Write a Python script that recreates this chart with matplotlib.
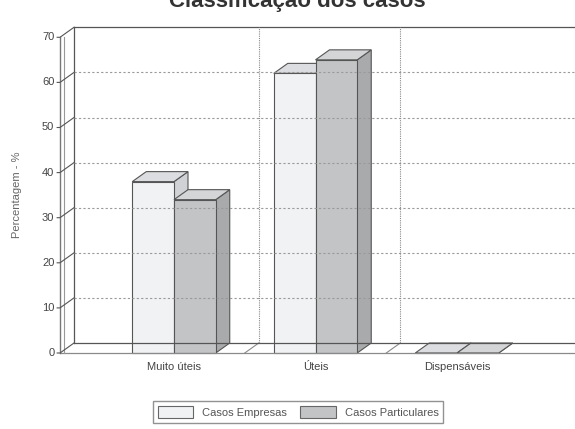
import matplotlib
matplotlib.use("Agg")
import matplotlib.pyplot as plt
from matplotlib.patches import Polygon, Patch

plt.rcParams['font.family'] = ['Liberation Sans', 'DejaVu Sans']

# data
categorias = ['Muito úteis', 'Úteis', 'Dispensáveis']
series = ['Casos Empresas', 'Casos Particulares']
empresas = [38, 62, 0]
particulares = [34, 65, 0]
yticks = [0, 10, 20, 30, 40, 50, 60, 70]

# colours per series: front, top, side
cores = {
    'Casos Empresas': ('#f1f2f4', '#dcdde0', '#d0d2d6'),
    'Casos Particulares': ('#c3c4c6', '#d4d5d7', '#a9aaac'),
}

W, H = 575, 429
fig = plt.figure(figsize=(W / 100, H / 100), dpi=100)

# front plane of the chart, scaled in category units / percent
x_px0, y_px0, y_pxtop = 60, 353, 27
px_per_cat, px_per_pct = 141.5, 4.51
ax = fig.add_axes([x_px0 / W, (H - y_px0) / H, (W - x_px0) / W, (y_px0 - y_pxtop) / H])
xmin = (x_px0 - 174) / px_per_cat
xmax = (W - 174) / px_per_cat
ax.set_xlim(xmin, xmax)
ax.set_ylim(0, (y_px0 - y_pxtop) / px_per_pct)
ax.axis('off')

dx = 14 / px_per_cat     # depth offset
dy = 10 / px_per_pct
edge = '#555555'

# back wall with dotted gridlines
ax.plot([xmin + dx, xmin + dx], [dy, 70 + dy], color=edge, lw=0.9, clip_on=False)
ax.plot([xmin + dx, xmax], [70 + dy, 70 + dy], color=edge, lw=0.9, clip_on=False)
for t in yticks[1:-1]:
    ax.plot([xmin + dx, xmax], [t + dy, t + dy], color='#9a9a9a', lw=0.8,
            ls=(0, (2, 2)), clip_on=False)
for s in [0.5, 1.5]:
    ax.plot([s + dx, s + dx], [dy, 70 + dy], color='#8a8a8a', lw=0.8,
            ls=(0, (1, 1)), clip_on=False)
    ax.plot([s, s + dx], [0, dy], color='#8a8a8a', lw=0.8, clip_on=False)

# floor
ax.plot([xmin + dx, xmax], [dy, dy], color=edge, lw=0.9, clip_on=False)
ax.plot([xmin, xmax], [0, 0], color='#8a8a8a', lw=0.9, clip_on=False)

# left axis with diagonal ticks
ax.plot([xmin, xmin], [0, 70], color='#777777', lw=1.0, clip_on=False)
ax.plot([xmin + 0.025, xmin + 0.025], [0, 70], color='#999999', lw=0.8, clip_on=False)
for t in yticks:
    ax.plot([xmin - 0.02, xmin, xmin + dx], [t, t, t + dy], color=edge, lw=0.8,
            clip_on=False)
    ax.text(xmin - 0.04, t, str(t), ha='right', va='center', fontsize=8,
            color='#444444')

ax.text(-1.11, 35, 'Percentagem - %', rotation=90, ha='center', va='center',
        fontsize=8, color='#666666')

# 3D bars
largura = 0.295
for nome, valores, desloc in [('Casos Empresas', empresas, -largura / 2),
                              ('Casos Particulares', particulares, largura / 2)]:
    frente, topo, lado = cores[nome]
    for i, v in enumerate(valores):
        xl = i + desloc - largura / 2
        xr = xl + largura
        ax.add_patch(Polygon([(xr, 0), (xr + dx, dy), (xr + dx, v + dy), (xr, v)],
                             closed=True, fc=lado, ec=edge, lw=0.8, clip_on=False))
        ax.add_patch(Polygon([(xl, v), (xl + dx, v + dy), (xr + dx, v + dy), (xr, v)],
                             closed=True, fc=topo, ec=edge, lw=0.8, clip_on=False))
        ax.bar(i + desloc, v, width=largura, color=frente, edgecolor=edge,
               linewidth=0.8, clip_on=False)

for i, c in enumerate(categorias):
    ax.text(i, -3.2, c, ha='center', va='center', fontsize=8, color='#444444')

# title, partly above the top edge
fig.text(297 / W, 1 - 2 / H, 'Classificação dos casos', ha='center', va='center',
         fontsize=16, fontweight='bold', color='#333333')

handles = [Patch(facecolor=cores[s][0], edgecolor='#666666', lw=0.8) for s in series]
leg = fig.legend(handles, series, loc='center', bbox_to_anchor=(298 / W, 1 - 412 / H),
                 ncol=2, fontsize=8, frameon=True, fancybox=False,
                 handlelength=3.2, handleheight=1.4, columnspacing=1.2,
                 borderpad=0.4, edgecolor='#777777')
for t in leg.get_texts():
    t.set_color('#555555')

fig.savefig('out.png', dpi=100)
